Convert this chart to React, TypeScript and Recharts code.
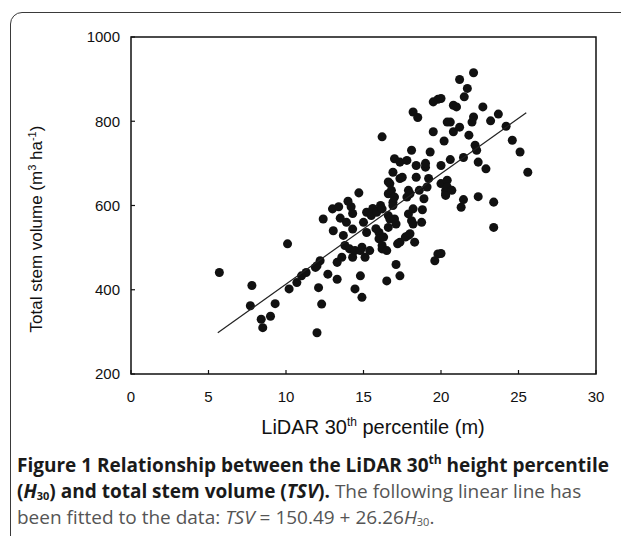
import { ScatterChart, Scatter, XAxis, YAxis, ZAxis, ReferenceArea } from "recharts";

// LiDAR 30th height percentile (m) and total stem volume (m3/ha)
const heightX = [
  5.7, 7.8, 7.7, 8.4, 8.5, 9.0, 9.3, 10.1, 10.2, 10.7, 11.0, 11.3, 11.9, 12.0, 12.1, 12.3,
  12.2, 12.0, 12.4, 12.7, 13.0, 13.4, 13.5, 13.05, 13.7, 13.3, 13.3, 13.6, 13.8, 14.1, 14.2,
  14.3, 14.3, 14.3, 14.45, 14.45, 14.8, 14.8, 14.9, 14.9, 14.7, 15.0, 15.1, 15.2, 15.2, 15.4,
  15.5, 15.6, 15.85, 16.0, 16.0, 16.1, 16.2, 16.2, 16.2, 16.2, 16.3, 16.5, 16.5, 16.6, 16.6,
  16.6, 16.6, 16.7, 16.7, 16.8, 16.9, 16.9, 16.9, 17.0, 17.0, 17.0, 17.1, 17.1, 17.2, 17.35,
  17.35, 17.35, 17.35, 17.5, 17.7, 17.8, 17.8, 17.9, 17.9, 17.9, 18.0, 18.0, 18.1, 18.1, 18.2,
  18.2, 18.2, 18.3, 18.4, 18.4, 18.5, 18.6, 18.75, 18.9, 19.0, 19.1, 19.2, 19.3, 19.5, 19.5,
  19.6, 19.8, 19.8, 20.0, 20.0, 20.0, 20.0, 20.2, 20.3, 20.3, 20.3, 20.4, 20.4, 20.4, 20.6,
  20.6, 20.7, 20.8, 20.8, 21.0, 21.2, 21.2, 21.3, 21.45, 21.45, 21.5, 21.7, 21.8, 22.0, 22.1,
  22.1, 22.2, 22.3, 22.4, 22.4, 22.7, 22.9, 23.2, 23.4, 23.4, 23.7, 24.2, 24.6, 25.1, 25.6,
  14.0, 18.8, 19.0, 15.8, 13.9,
];
const volumeY = [
  441, 410, 362, 330, 310, 337, 367, 509, 402, 417, 433, 441, 453, 298, 405, 366,
  469, 457, 568, 437, 592, 597, 570, 540, 529, 465, 425, 477, 505, 497, 597,
  581, 544, 477, 493, 402, 433, 493, 382, 501, 630, 560, 477, 584, 536, 493,
  576, 593, 584, 536, 521, 600, 763, 505, 497, 592, 525, 421, 493, 548, 576,
  628, 656, 568, 652, 636, 608, 679, 600, 711, 620, 568, 556, 460, 509, 433,
  513, 664, 703, 667, 525, 707, 620, 636, 580, 529, 533, 628, 731, 564, 822,
  592, 556, 513, 695, 667, 809, 636, 560, 616, 691, 644, 664, 727, 846, 775,
  469, 852, 485, 695, 652, 486, 854, 753, 636, 628, 624, 660, 644, 798, 709,
  798, 636, 838, 775, 834, 899, 786, 596, 714, 614, 858, 878, 767, 798, 915,
  810, 743, 731, 703, 621, 834, 687, 801, 608, 548, 817, 788, 755, 727, 679,
  610, 590, 700, 545, 560,
];

// fitted line TSV = 150.49 + 26.26 H30, end points as drawn
const fitX = [5.6, 25.5];
const fitY = [298, 820];

const xTicks = [0, 5, 10, 15, 20, 25, 30];
const yTicks = [200, 400, 600, 800, 1000];

const points = heightX.map((x, i) => ({ x, y: volumeY[i] }));
const fitLine = fitX.map((x, i) => ({ x, y: fitY[i] }));

const axisFont = "'Liberation Sans', Arial, sans-serif";
const X_MARGIN = 17;
const Y_MARGIN = 11;
const TICK_LEN = 4;

// tick label plus a short inward tick mark
function BottomTick(props: any) {
  const { x, y, payload } = props;
  const axisY = y - X_MARGIN;
  return (
    <g>
      <line x1={x} x2={x} y1={axisY} y2={axisY - TICK_LEN} stroke="#111" strokeWidth={1.2} />
      <text x={x} y={y} dy="0.71em" textAnchor="middle" fontSize={15} fill="#111" fontFamily={axisFont}>
        {payload.value}
      </text>
    </g>
  );
}

function LeftTick(props: any) {
  const { x, y, payload } = props;
  const axisX = x + Y_MARGIN;
  return (
    <g>
      <line x1={axisX} x2={axisX + TICK_LEN} y1={y} y2={y} stroke="#111" strokeWidth={1.2} />
      <text x={x} y={y} dy="0.355em" textAnchor="end" fontSize={15} fill="#111" fontFamily={axisFont}>
        {payload.value}
      </text>
    </g>
  );
}

function RightTick(props: any) {
  const { x, y } = props;
  const axisX = x - Y_MARGIN;
  return <line x1={axisX} x2={axisX - TICK_LEN} y1={y} y2={y} stroke="#111" strokeWidth={1.2} />;
}

const subStyle = { fontSize: 11, position: "relative" as const, top: 2, lineHeight: 0 };
const supStyle = { fontSize: 12, position: "relative" as const, top: -8, lineHeight: 0 };

export default function App() {
  return (
    <div
      style={{
        position: "fixed",
        left: 0,
        top: 0,
        width: 621,
        height: 536,
        overflow: "hidden",
        background: "#fff",
      }}
    >
      <div
        style={{
          position: "absolute",
          left: 10,
          top: 12,
          width: 700,
          height: 600,
          border: "1.5px solid #3a3a3a",
          borderRadius: 12,
        }}
      />

      <div style={{ position: "absolute", left: 0, top: 0 }}>
        <ScatterChart
          width={621}
          height={440}
          margin={{ top: 37, right: 5, bottom: 36, left: 71 }}
        >
          <XAxis
            xAxisId="bottom"
            type="number"
            dataKey="x"
            domain={[0, 30]}
            ticks={xTicks}
            tickSize={0}
            tickMargin={X_MARGIN}
            height={30}
            tick={<BottomTick />}
            tickLine={false}
            axisLine={false}
          />
          <YAxis
            yAxisId="left"
            type="number"
            dataKey="y"
            domain={[200, 1000]}
            ticks={yTicks}
            tickSize={0}
            tickMargin={Y_MARGIN}
            width={60}
            tick={<LeftTick />}
            tickLine={false}
            axisLine={false}
          />
          <YAxis
            yAxisId="right"
            orientation="right"
            type="number"
            dataKey="y"
            domain={[200, 1000]}
            ticks={yTicks}
            tickSize={0}
            tickMargin={Y_MARGIN}
            width={20}
            tick={<RightTick />}
            tickLine={false}
            axisLine={false}
          />
          <ZAxis range={[56, 56]} />
          <ReferenceArea
            xAxisId="bottom"
            yAxisId="left"
            x1={0}
            x2={30}
            y1={200}
            y2={1000}
            fill="none"
            fillOpacity={0}
            stroke="#111"
            strokeWidth={1.5}
            strokeOpacity={1}
          />
          <Scatter
            xAxisId="bottom"
            yAxisId="left"
            data={points}
            fill="#111"
            shape="circle"
            isAnimationActive={false}
          />
          <Scatter
            xAxisId="bottom"
            yAxisId="left"
            data={fitLine}
            line={{ stroke: "#222", strokeWidth: 1.2 }}
            shape={() => <g />}
            isAnimationActive={false}
          />
        </ScatterChart>
      </div>

      <div
        style={{
          position: "absolute",
          left: 37,
          top: 229,
          transform: "translate(-50%, -50%) rotate(-90deg)",
          whiteSpace: "nowrap",
          fontFamily: axisFont,
          fontSize: 17,
          color: "#111",
        }}
      >
        Total stem volume (m<span style={{ ...supStyle, fontSize: 11, top: -6 }}>3</span> ha
        <span style={{ ...supStyle, fontSize: 11, top: -6 }}>-1</span>)
      </div>

      <div
        style={{
          position: "absolute",
          left: 373,
          top: 427,
          transform: "translate(-50%, -50%)",
          whiteSpace: "nowrap",
          fontFamily: axisFont,
          fontSize: 20,
          color: "#111",
        }}
      >
        LiDAR 30<span style={supStyle}>th</span> percentile (m)
      </div>

      <div
        style={{
          position: "absolute",
          left: 17,
          top: 452,
          width: 610,
          fontFamily: "'Open Sans', sans-serif",
          fontSize: 19,
          lineHeight: "26px",
          color: "#555",
          whiteSpace: "nowrap",
        }}
      >
        <div style={{ height: 26 }}>
          <b style={{ color: "#1a1a1a" }}>
            Figure 1 Relationship between the LiDAR 30<span style={supStyle}>th</span> height percentile
          </b>
        </div>
        <div style={{ height: 26 }}>
          <b style={{ color: "#1a1a1a" }}>
            (<i>H</i>
            <span style={subStyle}>30</span>) and total stem volume (<i>TSV</i>).
          </b>{" "}
          The following linear line has
        </div>
        <div style={{ height: 26 }}>
          been fitted to the data: <i>TSV</i> = 150.49 + 26.26<i>H</i>
          <span style={subStyle}>30</span>.
        </div>
      </div>
    </div>
  );
}
